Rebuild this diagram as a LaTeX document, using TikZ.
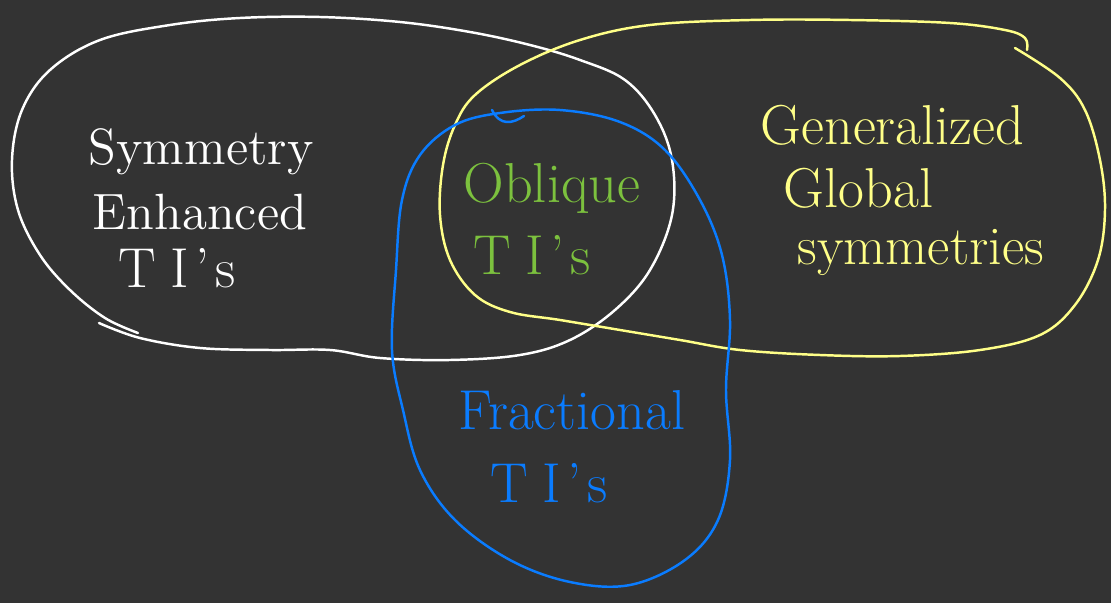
\documentclass[tikz,border=0pt]{standalone}
\usepackage{xcolor}
\usepackage{tikz}
\usetikzlibrary{positioning}
\definecolor{board}{HTML}{333333}
\definecolor{chalkyellow}{HTML}{FFFF88}
\definecolor{penblue}{HTML}{0A7CFF}
\definecolor{pengreen}{HTML}{7CC13E}
\newcommand{\tis}{T\kern4pt I\kern2pt'\kern1.5pt s}

\begin{document}
\begin{tikzpicture}[x=0.01cm,y=-0.01cm,
    pen/.style={line width=0.7pt,line cap=round,line join=round},
    hand/.style={font=\fontsize{16}{19}\selectfont,inner sep=0pt,anchor=west}]
                    % board
                    \fill[board] (0,0) rectangle (1111,603);
                    \useasboundingbox (0,0) rectangle (1111,603);

                    % Symmetry enhanced region
                    \draw[pen,white] plot[smooth,tension=0.6] coordinates {(99,323) (140,338) (200,348) (270,350) (330,350) (380,358) (450,360) (520,355) (570,340) (615,310) (650,270) (672,215) (672,160) (655,115) (625,80) (580,60) (530,45) (470,32) (400,22) (320,17) (240,18) (170,25) (100,40) (50,70) (22,110) (12,160) (18,210) (40,255) (70,290) (105,318) (138,333)};

                    % Generalized global symmetries region
                    \draw[pen,chalkyellow] plot[smooth,tension=0.6] coordinates {(1015,48) (1060,78) (1085,110) (1100,160) (1105,210) (1098,260) (1075,305) (1040,335) (980,350) (900,356) (820,355) (740,350) (680,340) (620,330) (560,320) (510,312) (475,295) (450,260) (440,215) (443,165) (455,125) (475,95) (520,65) (580,40) (650,25) (750,20) (850,20) (950,23) (1005,30) (1025,38) (1027,50)};

                    % Fractional region
                    \draw[pen,penblue] plot[smooth cycle,tension=0.6] coordinates {(500,113) (560,110) (620,122) (665,150) (700,200) (722,255) (730,320) (726,390) (730,460) (718,520) (685,560) (630,585) (570,582) (510,560) (455,520) (420,470) (403,410) (392,350) (396,270) (402,200) (420,155) (455,125)};
                    \draw[pen,penblue] (492,110) .. controls (500,126) and (512,124) .. (524,116);

                    % Labels
                    \node[hand,white,font=\fontsize{14.5}{18}\selectfont] (sym) at (88,152) {Symmetry};
                    \node[hand,white,font=\fontsize{14.5}{18}\selectfont] (enh) at (92,212) {Enhanced};
                    \node[hand,white] (seti) at (118,268) {\tis};

                    \node[hand,chalkyellow] (gen) at (760,125) {Generalized};
                    \node[hand,chalkyellow] (glob) at (783,188) {Global};
                    \node[hand,chalkyellow,font=\fontsize{15.5}{19}\selectfont] (symm) at (797,252) {symmetries};

                    \node[hand,pengreen] (obl) at (463,188) {Oblique};
                    \node[hand,pengreen] (oti) at (473,255) {\tis};

                    \node[hand,penblue] (frac) at (458,410) {Fractional};
                    \node[hand,penblue] (fti) at (490,483) {\tis};
                \end{tikzpicture}
\end{document}
